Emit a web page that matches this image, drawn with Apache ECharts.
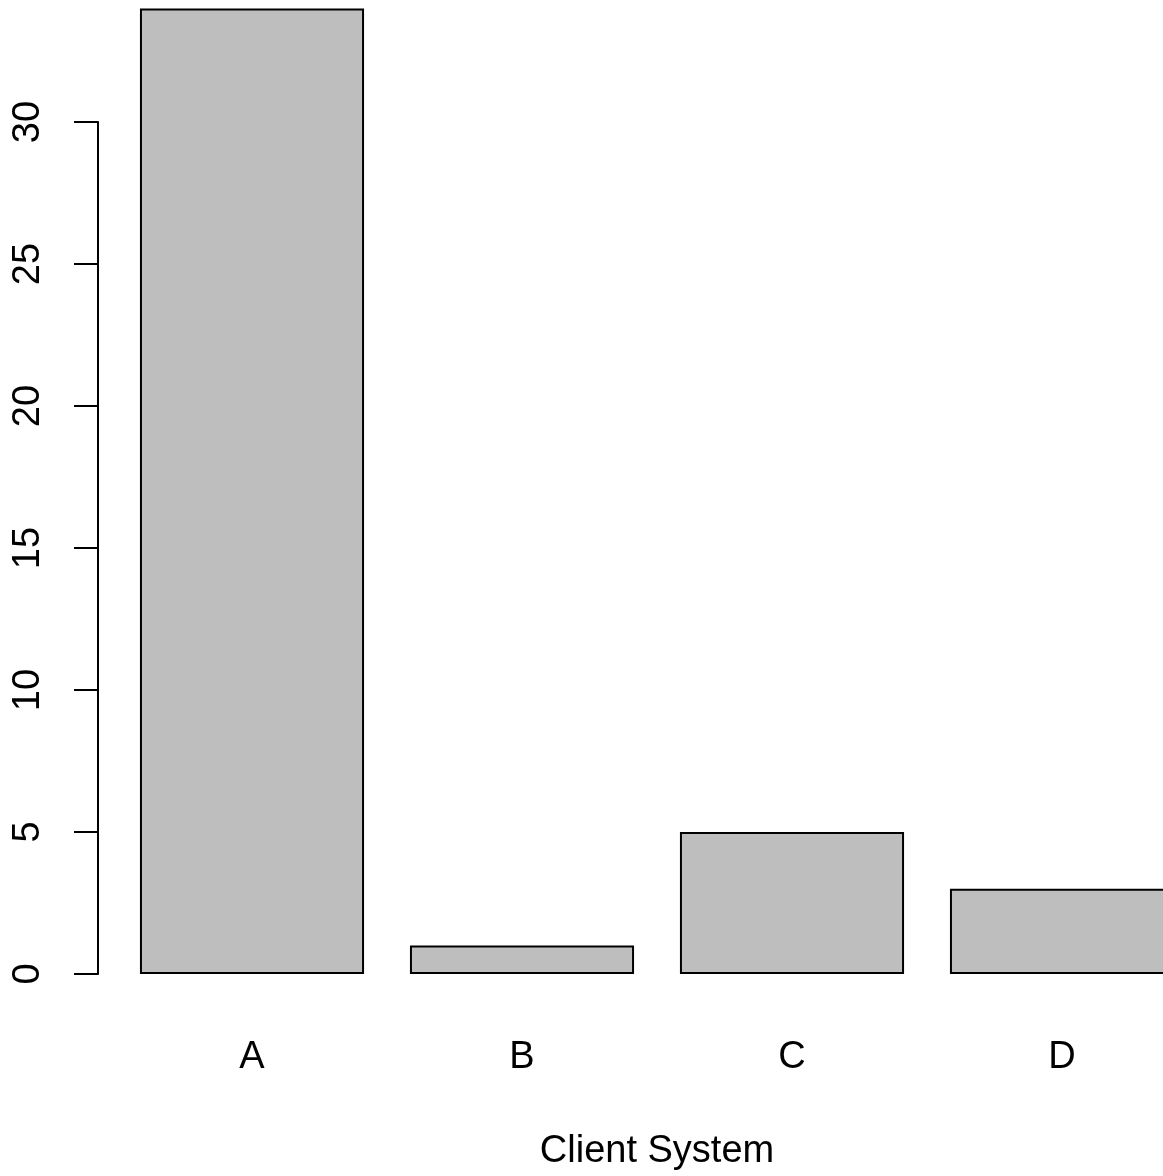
<!DOCTYPE html>
<html>
<head>
<meta charset="utf-8">
<script src="https://cdn.jsdelivr.net/npm/echarts@6/dist/echarts.min.js"></script>
<style>
html,body{margin:0;padding:0;background:#fff;}
#chart{width:1163px;height:1176px;}
</style>
</head>
<body>
<div id="chart"></div>
<script>
const categories = ['A', 'B', 'C', 'D'];
const counts = [34, 1, 5, 3];
const yTicks = [0, 5, 10, 15, 20, 25, 30];

const FONT = 'Liberation Sans, Arial, Helvetica, sans-serif';
const chart = echarts.init(document.getElementById('chart'), null, {renderer: 'canvas'});
chart.setOption({
  animation: false,
  backgroundColor: '#ffffff',
  grid: {left: 117, width: 1080, top: 122, bottom: 202, containLabel: false, outerBoundsMode: 'none'},
  xAxis: {
    type: 'category',
    data: categories,
    name: 'Client System',
    nameLocation: 'middle',
    nameGap: 159,
    nameTextStyle: {fontFamily: FONT, fontSize: 38, color: '#000', lineHeight: 38},
    axisLine: {show: false},
    axisTick: {show: false},
    axisLabel: {fontFamily: FONT, fontSize: 38, color: '#000', margin: 65, lineHeight: 38, hideOverlap: false},
    splitLine: {show: false}
  },
  yAxis: {
    type: 'value',
    min: yTicks[0],
    max: yTicks[yTicks.length - 1],
    interval: 5,
    offset: 19,
    axisLine: {show: true, lineStyle: {color: '#000', width: 2}},
    axisTick: {show: true, length: 24, lineStyle: {color: '#000', width: 2}},
    axisLabel: {fontFamily: FONT, fontSize: 38, color: '#000', rotate: 90, margin: 50},
    splitLine: {show: false}
  },
  series: [{
    type: 'bar',
    data: counts,
    clip: false,
    barCategoryGap: '17%',
    itemStyle: {color: '#bebebe', borderColor: '#000', borderWidth: 2}
  }]
});
</script>
</body>
</html>
